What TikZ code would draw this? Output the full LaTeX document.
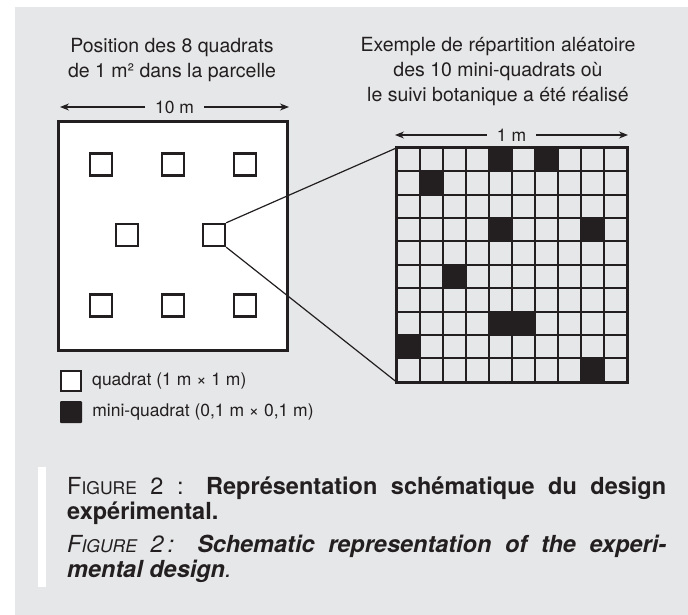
\documentclass[tikz,border=0pt]{standalone}
\usepackage{fontspec}
\setmainfont{TeX Gyre Heros}
\usepackage{xcolor}
\usetikzlibrary{arrows.meta,positioning}

\definecolor{fond}{HTML}{E6E7E8}
\definecolor{encre}{HTML}{231F20}
\newcommand{\figlbl}{F{\fontsize{17.5}{24}\selectfont IGURE}}

\tikzset{
    quadrat/.style={draw=encre, line width=2.4pt, fill=white, minimum size=22pt, inner sep=0pt},
    mesure/.style={encre, line width=1.1pt, {Stealth[length=9pt,width=7pt]}-{Stealth[length=9pt,width=7pt]}},
    loupe/.style={encre, line width=1.2pt},
    titre/.style={align=center, text=encre, font=\fontsize{19.5}{25}\selectfont},
    legende/.style={text=encre, font=\fontsize{17.5}{20}\selectfont, inner sep=0pt},
    capt/.style={anchor=north west, text width=599pt, align=justify, inner sep=0pt, text=encre,
        font=\fontsize{23.5}{24.5}\selectfont},
}

\begin{document}
\begin{tikzpicture}[x=1pt, y=-1pt]
    \useasboundingbox (0,0) rectangle (688,615);
    \fill[fond] (15,7) rectangle (688,615);

    % titres
    \node[titre] (t1) at (172,60) {Position des 8 quadrats\\de 1 m² dans la parcelle};
    \node[titre] (t2) at (498,72) {Exemple de répartition aléatoire\\des 10 mini-quadrats où\\le suivi botanique a été réalisé};

    % parcelle de 10 m
    \node[draw=encre, line width=2.6pt, fill=white, minimum size=229pt, inner sep=0pt] (parcelle) at (173,236) {};
    \foreach \x/\y [count=\i] in {101/164.5, 173/164.5, 245/164.5, 127/235, 214/235,
                                  101/305.5, 173/305.5, 245/305.5}
        \node[quadrat] (q\i) at (\x,\y) {};
    \coordinate (a1) at (60,107);
    \coordinate (a2) at (289,107);
    \draw[mesure] (a1) -- node[fill=fond, inner xsep=10pt, inner ysep=0pt, font=\fontsize{17.5}{20}\selectfont] (l10) {10 m} (a2);

    % quadrat de 1 m
    \node[fill=fond, minimum width=230pt, minimum height=234pt, inner sep=0pt] (grille) at (512,265) {};
    \foreach \c/\r in {4/0, 6/0, 1/1, 4/3, 8/3, 2/5, 4/7, 5/7, 0/8, 8/9}
        \fill[encre] (397+23*\c, 148+23.4*\r) rectangle +(23,23.4);
    \foreach \i in {1,...,9} {
        \draw[encre, line width=2pt] ([xshift=23*\i pt]grille.north west) -- ([xshift=23*\i pt]grille.south west);
        \draw[encre, line width=2pt] ([yshift=-23.4*\i pt]grille.north west) -- ([yshift=-23.4*\i pt]grille.north east);
    }
    \draw[encre, line width=3pt] (grille.north west) rectangle (grille.south east);
    \coordinate (b1) at (395,135);
    \coordinate (b2) at (628,135);
    \draw[mesure] (b1) -- node[fill=fond, inner xsep=10pt, inner ysep=0pt, font=\fontsize{17.5}{20}\selectfont] (l1) {1 m} (b2);

    % agrandissement
    \draw[loupe] (q5.north east) -- (grille.north west);
    \draw[loupe] (q5.south east) -- (grille.south west);

    % legende
    \node[quadrat, minimum size=20pt, line width=2pt] (lq) at (71,381) {};
    \node[legende, right=10pt of lq] (lqt) {quadrat (1 m × 1 m)};
    \node[fill=encre, minimum size=22pt, rounded corners=1pt, inner sep=0pt] (lm) at (71,412) {};
    \node[legende, right=10pt of lm] (lmt) {mini-quadrat (0,1 m × 0,1 m)};

    % figure caption
    \fill[white] (38,467) rectangle (46,587);
    \node[capt] (cfr) at (67,477) {\figlbl{} 2 : \textbf{Représentation schématique du design}\linebreak
        \textbf{expérimental.}};
    \node[capt] (cen) at (67,535) {\textit{\figlbl{} 2\,:} \textbf{\textit{Schematic representation of the experi-}}\linebreak
        \textbf{\textit{mental design}}\textit{.}};
\end{tikzpicture}
\end{document}
